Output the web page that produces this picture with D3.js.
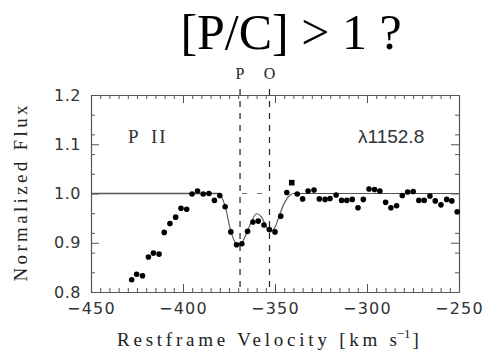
<!DOCTYPE html>
<html>
<head>
<meta charset="utf-8">
<script src="https://cdn.jsdelivr.net/npm/d3@7"></script>
<style>
  html, body { margin: 0; padding: 0; background: #fff; }
  svg { display: block; }
</style>
</head>
<body>
<svg id="chart" width="488" height="353"></svg>
<script>
// Observed normalized flux of the P II 1152.8 line versus restframe velocity
const velocity = [
  -427.9, -425.2, -422.0, -418.8, -416.1, -413.0, -410.2, -407.1, -404.0, -401.1,
  -398.0, -395.1, -392.1, -389.0, -385.9, -382.9, -380.0, -377.1, -374.0, -370.9,
  -368.0, -364.9, -362.0, -359.1, -356.0, -353.1, -350.0, -346.9, -343.6, -340.9,
  -337.9, -335.0, -332.0, -328.8, -325.9, -322.8, -320.1, -316.8, -313.8, -311.0,
  -308.0, -304.9, -302.0, -298.9, -295.9, -293.0, -289.9, -287.0, -283.9, -280.8,
  -277.9, -274.9, -271.8, -268.9, -265.8, -262.9, -259.8, -256.7, -253.9, -251.0
];
const flux = [
  0.825, 0.836, 0.833, 0.871, 0.879, 0.877, 0.921, 0.939, 0.952, 0.970,
  0.968, 0.999, 1.005, 0.999, 1.000, 0.986, 0.996, 0.973, 0.922, 0.896,
  0.898, 0.923, 0.942, 0.944, 0.936, 0.927, 0.922, 0.954, 1.002, 1.022,
  0.999, 0.989, 1.005, 1.007, 0.989, 0.988, 0.990, 0.997, 0.986, 0.986,
  0.988, 0.971, 0.988, 1.009, 1.008, 1.005, 0.982, 0.971, 0.975, 0.996,
  1.003, 1.004, 0.986, 0.986, 0.995, 0.985, 0.977, 0.988, 0.985, 0.963
];
// samples plotted with a square symbol
const squareVelocity = [-340.9];

// Two-component model profile
const modelVelocity = [-450, -380, -377.2, -374.1, -371.2, -369.0, -366.3, -363.6, -360.0,
  -357.3, -354.6, -352.8, -350.0, -347.3, -344.6, -341.8, -340.0, -250];
const modelFlux = [1.0, 1.0, 0.976, 0.925, 0.898, 0.895, 0.912, 0.936, 0.959,
  0.952, 0.932, 0.922, 0.932, 0.959, 0.983, 0.997, 1.0, 1.0];

// Component positions
const componentVelocity = [-369, -353];
const componentLabels = ["P", "O"];

const xTicks = [-450, -400, -350, -300, -250];
const yTicks = [0.8, 0.9, 1.0, 1.1, 1.2];
const yTickLabels = ["0.8", "0.9", "1.0", "1.1", "1.2"];

const svg = d3.select("#chart");
const margin = { left: 91, right: 29, top: 95, bottom: 61 };
const W = 488, H = 353;
const x = d3.scaleLinear().domain([-450, -250]).range([margin.left, W - margin.right]);
const y = d3.scaleLinear().domain([0.8, 1.2]).range([H - margin.bottom, margin.top]);
const axisColor = "#555";
const plotSerif = "'Liberation Serif', 'DejaVu Serif', serif";

// Title
svg.append("text")
  .attr("x", 291).attr("y", 49)
  .attr("text-anchor", "middle")
  .attr("font-family", "'Liberation Serif', 'Times New Roman', serif")
  .attr("font-size", 50)
  .attr("fill", "#000")
  .text("[P/C] > 1 ?");

// Axes with minor ticks on all four sides, pointing inward
const minorX = d3.range(-450, -249, 5).filter(v => v % 50 !== 0);
const minorY = d3.range(0, 21, 2).map(i => 0.8 + i * 0.02).filter(v => Math.abs(Math.round(v * 10) - v * 10) > 1e-6);

function styleAxis(g) {
  g.selectAll(".domain").attr("stroke", axisColor).attr("stroke-width", 1.2);
  g.selectAll(".tick line").attr("stroke", axisColor).attr("stroke-width", 1);
}

const axisB = svg.append("g").attr("transform", `translate(0,${y(0.8)})`)
  .call(d3.axisBottom(x).tickValues(xTicks).tickSize(-8).tickSizeOuter(0).tickPadding(11)
    .tickFormat(d => d3.format("d")(d).replace("-", "\u2212")));
styleAxis(axisB);
axisB.selectAll("text").attr("font-family", "'DejaVu Sans', sans-serif").attr("font-size", 16)
  .attr("letter-spacing", 1.3).attr("fill", "#333");

svg.append("g").attr("transform", `translate(0,${y(0.8)})`)
  .call(d3.axisBottom(x).tickValues(minorX).tickSize(-4).tickSizeOuter(0).tickFormat(""))
  .call(styleAxis).select(".domain").remove();

const axisT = svg.append("g").attr("transform", `translate(0,${y(1.2)})`)
  .call(d3.axisTop(x).tickValues(xTicks).tickSize(-8).tickSizeOuter(0).tickFormat(""));
styleAxis(axisT);
svg.append("g").attr("transform", `translate(0,${y(1.2)})`)
  .call(d3.axisTop(x).tickValues(minorX).tickSize(-4).tickSizeOuter(0).tickFormat(""))
  .call(styleAxis).select(".domain").remove();

const axisL = svg.append("g").attr("transform", `translate(${x(-450)},0)`)
  .call(d3.axisLeft(y).tickValues(yTicks).tickSize(-8).tickSizeOuter(0).tickPadding(10)
    .tickFormat((d, i) => yTickLabels[i]));
styleAxis(axisL);
axisL.selectAll("text").attr("font-family", "'DejaVu Sans', sans-serif").attr("font-size", 16)
  .attr("letter-spacing", 0.5).attr("fill", "#333");
svg.append("g").attr("transform", `translate(${x(-450)},0)`)
  .call(d3.axisLeft(y).tickValues(minorY).tickSize(-4).tickSizeOuter(0).tickFormat(""))
  .call(styleAxis).select(".domain").remove();

const axisR = svg.append("g").attr("transform", `translate(${x(-250)},0)`)
  .call(d3.axisRight(y).tickValues(yTicks).tickSize(-8).tickSizeOuter(0).tickFormat(""));
styleAxis(axisR);
svg.append("g").attr("transform", `translate(${x(-250)},0)`)
  .call(d3.axisRight(y).tickValues(minorY).tickSize(-4).tickSizeOuter(0).tickFormat(""))
  .call(styleAxis).select(".domain").remove();

// Axis titles (typewriter-style spacing)
const xTitle = svg.append("text")
  .attr("x", 117).attr("y", 346)
  .attr("font-family", plotSerif)
  .attr("font-size", 19)
  .attr("fill", "#222");
xTitle.append("tspan").attr("textLength", 280).attr("lengthAdjust", "spacing").text("Restframe Velocity [km s");
xTitle.append("tspan").attr("dy", -8).attr("dx", -4).attr("font-size", 13).text("\u22121");
xTitle.append("tspan").attr("dy", 8).attr("dx", 2).text("]");

svg.append("text")
  .attr("transform", `translate(27,${(y(0.8) + y(1.2)) / 2}) rotate(-90)`)
  .attr("text-anchor", "middle")
  .attr("font-family", plotSerif)
  .attr("font-size", 19)
  .attr("fill", "#222")
  .attr("textLength", 176).attr("lengthAdjust", "spacing")
  .text("Normalized Flux");

// Component markers
svg.selectAll(".comp").data(componentVelocity).join("line")
  .attr("x1", d => x(d)).attr("x2", d => x(d))
  .attr("y1", y(1.2) - 6).attr("y2", y(0.8))
  .attr("stroke", "#222").attr("stroke-width", 1.2)
  .attr("stroke-dasharray", "6,6");

svg.selectAll(".compLabel").data(componentVelocity).join("text")
  .attr("x", d => x(d)).attr("y", 79)
  .attr("text-anchor", "middle")
  .attr("font-family", plotSerif)
  .attr("font-size", 16)
  .attr("fill", "#222")
  .text((d, i) => componentLabels[i]);

// Continuum between the components
svg.append("line")
  .attr("x1", x(componentVelocity[0])).attr("x2", x(componentVelocity[1]))
  .attr("y1", y(1.0)).attr("y2", y(1.0))
  .attr("stroke", "#777").attr("stroke-width", 1.2)
  .attr("stroke-dasharray", "5,10").attr("stroke-dashoffset", -2);

// Model profile
const line = d3.line().x(d => x(d[0])).y(d => y(d[1])).curve(d3.curveMonotoneX);
const modelPts = modelVelocity.map((v, i) => [v, modelFlux[i]]);
svg.append("path")
  .attr("d", line(modelPts.filter(p => p[0] <= componentVelocity[0] - 11)))
  .attr("fill", "none").attr("stroke", "#555").attr("stroke-width", 1.3);
svg.append("path")
  .attr("d", line(modelPts.filter(p => p[0] >= -380)))
  .attr("fill", "none").attr("stroke", "#555").attr("stroke-width", 1.1);

// Data points
const pts = velocity.map((v, i) => ({ v, f: flux[i], sq: squareVelocity.includes(v) }));
svg.selectAll(".pt").data(pts.filter(d => !d.sq)).join("circle")
  .attr("cx", d => x(d.v)).attr("cy", d => y(d.f)).attr("r", 2.8).attr("fill", "#000");
svg.selectAll(".sq").data(pts.filter(d => d.sq)).join("rect")
  .attr("x", d => x(d.v) - 2.8).attr("y", d => y(d.f) - 2.8)
  .attr("width", 5.6).attr("height", 5.6).attr("fill", "#000");

// Line annotations
const ion = svg.append("text")
  .attr("y", 143)
  .attr("font-family", plotSerif)
  .attr("font-size", 19)
  .attr("fill", "#333");
ion.append("tspan").attr("x", 128).text("P");
ion.append("tspan").attr("x", 151).attr("letter-spacing", 2).text("II");

svg.append("text")
  .attr("x", 358).attr("y", 143)
  .attr("font-family", "'Liberation Sans', Arial, sans-serif")
  .attr("font-size", 19)
  .attr("fill", "#333")
  .text("\u03bb1152.8");
</script>
</body>
</html>
